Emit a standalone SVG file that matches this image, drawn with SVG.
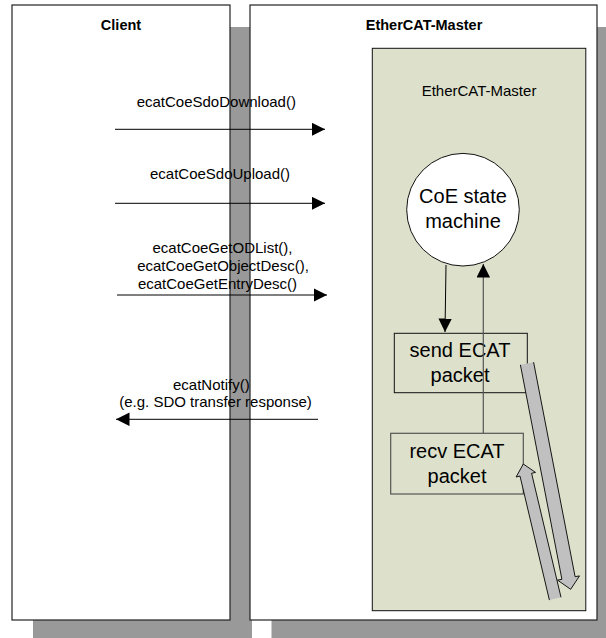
<svg xmlns="http://www.w3.org/2000/svg" width="606" height="638" viewBox="0 0 606 638">
<style>
.shadow{fill:#999999;stroke:none}
.panel{fill:#ffffff;stroke:#222222;stroke-width:1.2}
.title{font-family:"Liberation Sans",Arial,sans-serif;font-weight:bold;font-size:14.5px;fill:#000;text-anchor:middle}
.lbl{font-family:"Liberation Sans",Arial,sans-serif;font-size:15px;fill:#000;text-anchor:middle}
.big{font-family:"Liberation Sans",Arial,sans-serif;font-size:20px;fill:#000;text-anchor:middle}
.msg{stroke:#000;stroke-width:1;fill:none;marker-end:url(#ah)}
.fat{fill:#c0c0c0;stroke:none}
.fatline{fill:none;stroke:#000;stroke-width:0.9;stroke-linejoin:miter}
</style>
<defs>
<marker id="ah" markerUnits="userSpaceOnUse" markerWidth="14" markerHeight="14" refX="13.5" refY="6.75" orient="auto">
<path d="M0,0 L13.5,6.75 L0,13.5 z" fill="#000"/>
</marker>
</defs>
<rect width="606" height="638" fill="#ffffff"/>
<g id="shadows">
<rect class="shadow" x="33" y="27" width="219" height="611"/>
<rect class="shadow" x="271.5" y="27" width="334.5" height="611"/>
</g>
<g id="client">
<rect class="panel" x="12" y="5" width="218" height="615"/>
<text class="title" x="121" y="30">Client</text>
</g>
<g id="master">
<rect class="panel" x="250" y="5" width="347" height="615"/>
<text class="title" x="424" y="30">EtherCAT-Master</text>
</g>
<g id="master-inner">
<rect x="372.3" y="48.3" width="213.5" height="562.4" fill="#dde1cb" stroke="#111" stroke-width="1"/>
<text class="lbl" x="479" y="96">EtherCAT-Master</text>
</g>
<g id="coe-state-machine">
<circle cx="463" cy="209.7" r="56.3" fill="#ffffff" stroke="#111" stroke-width="1"/>
<text class="big" x="463" y="203">CoE state</text>
<text class="big" x="463" y="228">machine</text>
</g>
<g id="send-packet">
<rect x="394.3" y="333.3" width="133" height="59.4" fill="none" stroke="#111" stroke-width="1"/>
<text class="big" x="460" y="357">send ECAT</text>
<text class="big" x="460" y="382">packet</text>
</g>
<g id="recv-packet">
<rect x="390.7" y="433.3" width="132.6" height="60.7" fill="none" stroke="#555" stroke-width="1.2"/>
<text class="big" x="457" y="457.5">recv ECAT</text>
<text class="big" x="457" y="482.5">packet</text>
</g>
<g id="connectors">
<line class="msg" x1="115" y1="129.3" x2="325" y2="129.3"/>
<text class="lbl" x="216.3" y="107">ecatCoeSdoDownload()</text>
<line class="msg" x1="115" y1="203.3" x2="325" y2="203.3"/>
<text class="lbl" x="220" y="179">ecatCoeSdoUpload()</text>
<line class="msg" x1="117" y1="295" x2="327" y2="295"/>
<text class="lbl" x="222.5" y="253">ecatCoeGetODList(),</text>
<text class="lbl" x="223" y="271">ecatCoeGetObjectDesc(),</text>
<text class="lbl" x="217.5" y="288.5">ecatCoeGetEntryDesc()</text>
<line class="msg" x1="318" y1="419.3" x2="116" y2="419.3"/>
<text class="lbl" x="211.3" y="390">ecatNotify()</text>
<text class="lbl" x="215.5" y="406.5">(e.g. SDO transfer response)</text>
<line class="msg" x1="446" y1="265" x2="445" y2="332" stroke="#222"/>
<line x1="483.3" y1="433.3" x2="483.3" y2="264" stroke="#555" stroke-width="1.2" marker-end="url(#ah)"/>
<polygon class="fat" points="533.6,362.2 575.1,576.7 579.5,575.9 570.7,589.3 557.5,580.1 561.9,579.3 520.4,364.8"/>
<polyline class="fatline" points="533.6,362.2 575.1,576.7 579.5,575.9 570.7,589.3 557.5,580.1 561.9,579.3 520.4,364.8"/>
<polygon class="fat" points="561.0,597.3 531.6,473.3 535.5,472.4 523.3,464 516.1,477.0 520.0,476.1 549.4,600.1"/>
<polyline class="fatline" points="561.0,597.3 531.6,473.3 535.5,472.4 523.3,464 516.1,477.0 520.0,476.1 549.4,600.1"/>
</g>
</svg>
